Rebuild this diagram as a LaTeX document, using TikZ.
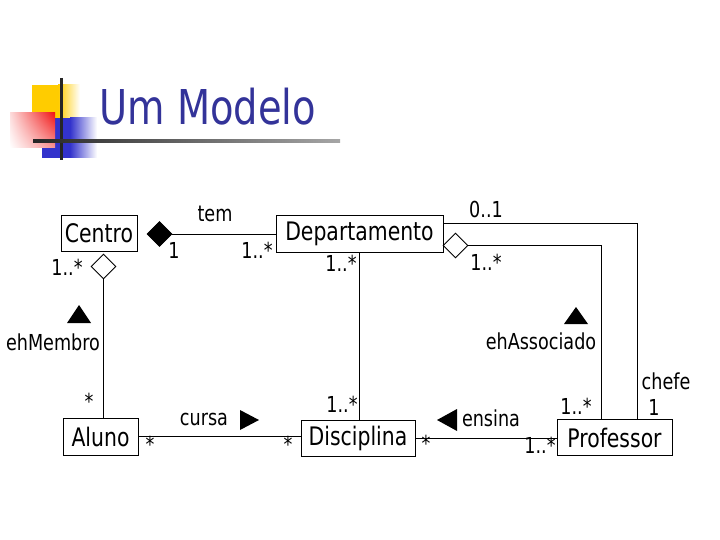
\documentclass[tikz,border=0pt]{standalone}
\usepackage{fontspec}
\setmainfont{DejaVu Sans}[FakeStretch=0.8]
\usepackage{xcolor}
\usetikzlibrary{shapes.geometric}
\usetikzlibrary{shadings}
\definecolor{titleblue}{RGB}{51,51,153}
\definecolor{decoyellow}{RGB}{255,204,0}
\definecolor{decoblue}{RGB}{51,51,204}
\definecolor{decored}{RGB}{240,20,20}

\begin{document}
\begin{tikzpicture}[x=1pt, y=-1pt, line width=0.9pt,
    font=\fontsize{22}{26}\selectfont,
    classbox/.style={draw, minimum height=36pt, inner sep=0pt,
      font=\fontsize{25.5}{30}\selectfont},
    lbl/.style={inner sep=0pt},
    diam/.style={diamond, draw, inner sep=0pt, minimum width=25pt, minimum height=25pt}]
    \useasboundingbox (0,0) rectangle (720,540);
    % title and its decoration
    \fill[decoyellow] (32,85) rectangle (58,125);
    \shade[left color=decoyellow, right color=white] (58,85) rectangle (80,125);
    \fill[decoblue] (42,118) rectangle (70,158);
    \shade[left color=decoblue, right color=white] (70,118) rectangle (97,158);
    \shade[upper right=decored, lower right=decored!45, upper left=decored!15, lower left=white]
    (10,113) rectangle (55,148);
    \draw[line width=3pt, black!85] (61,78) -- (61,160);
    \shade[left color=black!85, right color=black!35] (33,139.5) rectangle (340,142.5);
    \node[anchor=base west, inner sep=0pt, text=titleblue, font=\fontsize{48}{54}\selectfont]
    (title) at (99,125) {Um Modelo};
    % classes
    \node[classbox, minimum width=76pt] (centro) at (99,233.5) {Centro};
    \node[classbox, minimum width=167pt, minimum height=37pt] (depto) at (359.5,233.5) {Departamento};
    \node[classbox, minimum width=75pt, minimum height=37pt] (aluno) at (100.5,436.5) {Aluno};
    \node[classbox, minimum width=114pt] (disc) at (358,438) {Disciplina};
    \node[classbox, minimum width=115pt] (prof) at (614.5,437.5) {Professor};
    % diamonds
    \node[diam, fill=black] (comp) at (159.5,234) {};
    \node[diam] (aggcentro) at (103.5,266.5) {};
    \node[diam] (aggdepto) at (455.5,245.5) {};
    % associations
    \draw (comp.east) -- (comp.east -| depto.west);
    \draw (aggcentro.south) -- (aggcentro.south |- aluno.north);
    \draw (depto.south) -- (depto.south |- disc.north);
    \draw (aggdepto.east) -| ([xshift=-13.5pt]prof.north);
    \draw ([yshift=10.5pt]depto.east) -| ([xshift=22.5pt]prof.north);
    \draw (aluno.east) -- (aluno.east -| disc.west);
    \draw (disc.east) -- (disc.east -| prof.west);
    % reading directions
    \fill (67,323) -- (91,323) -- (79,305) -- cycle;
    \fill (564,324) -- (588,324) -- (576,307) -- cycle;
    \fill (240,410) -- (240,430) -- (259,420) -- cycle;
    \fill (457,409) -- (457,431) -- (437,420) -- cycle;
    % association names
    \node[lbl] (tem) at (215,214) {tem};
    \node[lbl] (ehmembro) at (53,342) {ehMembro};
    \node[lbl] (ehassoc) at (541,341) {ehAssociado};
    \node[lbl] (cursa) at (204,419) {cursa};
    \node[lbl] (ensina) at (491,418) {ensina};
    \node[lbl] (chefe) at (666,381) {chefe};
    % multiplicities
    \node[lbl] (m1) at (174,250) {1};
    \node[lbl] (m2) at (257,250) {1..*};
    \node[lbl] (m3) at (67,267) {1..*};
    \node[lbl] (m4) at (341,263) {1..*};
    \node[lbl] (m5) at (486,209) {0..1};
    \node[lbl] (m6) at (486,262) {1..*};
    \node[lbl] (m7) at (89,401) {*};
    \node[lbl] (m8) at (150,444) {*};
    \node[lbl] (m9) at (288,444) {*};
    \node[lbl] (m10) at (342,404) {1..*};
    \node[lbl] (m11) at (426,443) {*};
    \node[lbl] (m12) at (540,445) {1..*};
    \node[lbl] (m13) at (576,406) {1..*};
    \node[lbl] (m14) at (654,407) {1};
\end{tikzpicture}
\end{document}
